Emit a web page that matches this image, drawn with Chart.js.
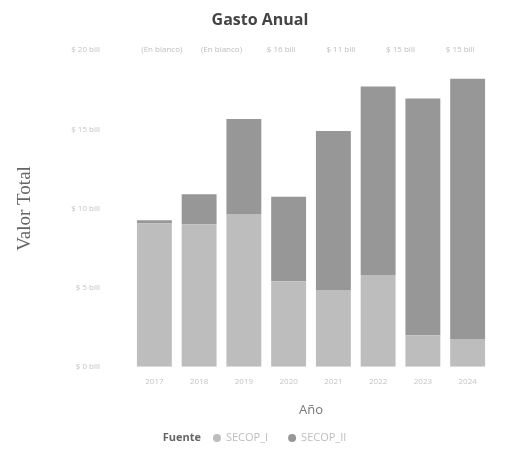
<!DOCTYPE html>
<html>
<head>
<meta charset="utf-8">
<script src="https://cdn.jsdelivr.net/npm/chart.js@4.4.1/dist/chart.umd.min.js"></script>
<style>
  html, body { margin: 0; padding: 0; background: #fff; }
  #wrap { width: 509px; height: 449px; }
</style>
</head>
<body>
<div id="wrap"><canvas id="gastoChart"></canvas></div>
<script>
// Data (billions)
const years = ["2017", "2018", "2019", "2020", "2021", "2022", "2023", "2024"];
const secopI = [9.05, 9.0, 9.65, 5.4, 4.85, 5.8, 2.0, 1.75];
const secopII = [0.2, 1.9, 6.0, 5.35, 10.05, 11.9, 14.95, 16.45];
const topLabels = ["(En blanco)", "(En blanco)", "$ 16 bill", "$ 11 bill", "$ 15 bill", "$ 15 bill"];
const seriesNames = ["SECOP_I", "SECOP_II"];
const seriesColors = ["#bdbdbd", "#979797"];

const FONT = "'Open Sans', sans-serif";

// Row of labels along the top line of the plot
const topRowPlugin = {
  id: "topRow",
  afterDraw(chart) {
    const { ctx, chartArea, scales } = chart;
    const y = scales.y.getPixelForValue(20);
    const slot = (chartArea.right - chartArea.left) / topLabels.length;
    ctx.save();
    ctx.font = "8px " + FONT;
    ctx.fillStyle = "#bdbdbd";
    ctx.textAlign = "center";
    ctx.textBaseline = "middle";
    topLabels.forEach((t, i) => {
      ctx.fillText(t, chartArea.left + slot * (i + 0.5), y);
    });
    ctx.restore();
  }
};

// Inline legend: "Fuente  ● SECOP_I  ● SECOP_II"
const legendPlugin = {
  id: "inlineLegend",
  afterDraw(chart) {
    const { ctx } = chart;
    const y = 438;
    ctx.save();
    ctx.textBaseline = "middle";
    ctx.font = "bold 11px " + FONT;
    const titleW = ctx.measureText("Fuente").width;
    ctx.font = "11px " + FONT;
    const itemW = chart.data.datasets.map(ds => ctx.measureText(ds.label).width);
    const gapTitle = 12, dot = 8, dotGap = 5, gapItem = 20;
    let total = titleW + gapTitle;
    itemW.forEach((w, i) => { total += dot + dotGap + w + (i < itemW.length - 1 ? gapItem : 0); });
    let x = (chart.width - total) / 2;

    ctx.font = "bold 11px " + FONT;
    ctx.fillStyle = "#666";
    ctx.textAlign = "left";
    ctx.fillText("Fuente", x, y);
    x += titleW + gapTitle;

    ctx.font = "11px " + FONT;
    chart.data.datasets.forEach((ds, i) => {
      ctx.fillStyle = ds.backgroundColor;
      ctx.beginPath();
      ctx.arc(x + dot / 2, y, dot / 2, 0, Math.PI * 2);
      ctx.fill();
      x += dot + dotGap;
      ctx.fillStyle = "#bdbdbd";
      ctx.fillText(ds.label, x, y);
      x += itemW[i] + gapItem;
    });
    ctx.restore();
  }
};

new Chart(document.getElementById("gastoChart"), {
  type: "bar",
  data: {
    labels: years,
    datasets: [
      { label: seriesNames[0], data: secopI, backgroundColor: seriesColors[0] },
      { label: seriesNames[1], data: secopII, backgroundColor: seriesColors[1] }
    ]
  },
  options: {
    responsive: true,
    maintainAspectRatio: false,
    animation: false,
    barPercentage: 0.78,
    categoryPercentage: 1,
    layout: { padding: { left: 30, right: 19, top: 0, bottom: 27 } },
    plugins: {
      legend: { display: false },
      tooltip: { enabled: false },
      title: {
        display: true,
        text: "Gasto Anual",
        color: "#444",
        font: { family: FONT, size: 16, weight: "bold" },
        padding: { top: 11, bottom: 20 }
      }
    },
    scales: {
      x: {
        stacked: true,
        grid: { display: false, drawTicks: false, tickLength: 0 },
        border: { display: false },
        ticks: { color: "#c4c4c4", font: { family: FONT, size: 8 }, padding: 10, maxRotation: 0 },
        title: {
          display: true,
          text: "Año",
          color: "#777",
          font: { family: FONT, size: 13 },
          padding: { top: 6, bottom: 4 }
        }
      },
      y: {
        stacked: true,
        min: 0,
        max: 20,
        grid: { display: false, drawTicks: false, tickLength: 0 },
        border: { display: false },
        ticks: {
          stepSize: 5,
          color: "#c4c4c4",
          font: { family: FONT, size: 8 },
          padding: 32,
          callback: v => "$ " + v + " bill"
        },
        title: {
          display: true,
          text: "Valor Total",
          color: "#666",
          font: { family: "'Liberation Serif', serif", size: 19 },
          padding: { top: -16, bottom: 0 }
        },
        afterFit(scale) { scale.width = 102; }
      }
    }
  },
  plugins: [topRowPlugin, legendPlugin]
});
</script>
</body>
</html>
